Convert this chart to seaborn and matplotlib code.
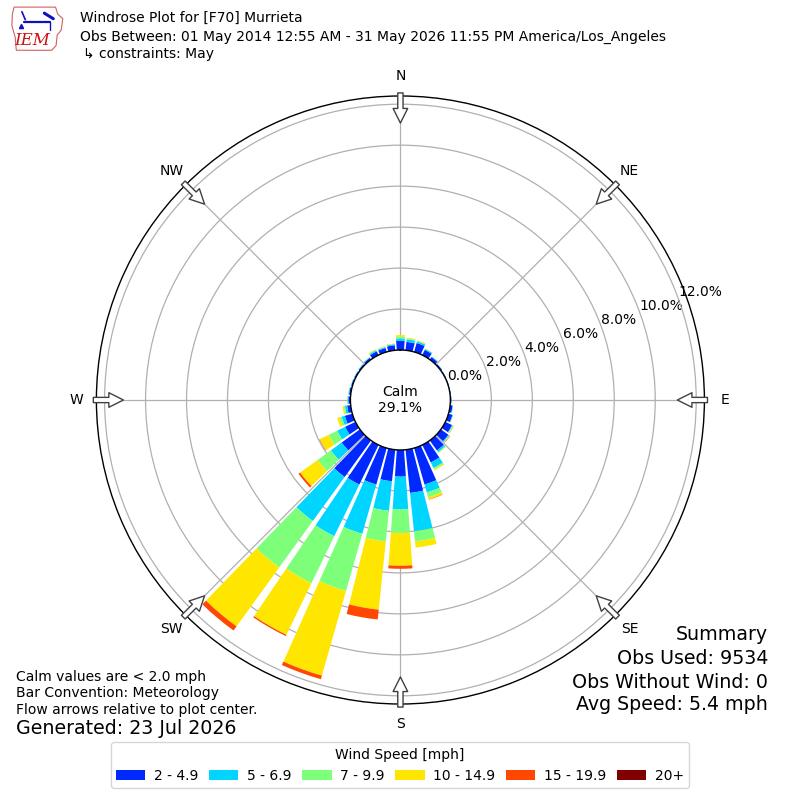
import numpy as np
import pandas as pd
import matplotlib
matplotlib.use("Agg")
import matplotlib.pyplot as plt
from matplotlib.patches import Patch, Polygon
import seaborn as sns

# ---------------- data ----------------
directions = list(range(0, 360, 10))
speed_bins = ["2 - 4.9", "5 - 6.9", "7 - 9.9", "10 - 14.9", "15 - 19.9", "20+"]
pct_2_5 = [0.45, 0.41, 0.45, 0.28, 0.15, 0.07, 0.04, 0.03, 0.03, 0.05, 0.12, 0.20,
           0.36, 0.45, 0.60, 0.95, 1.85, 2.12, 1.30, 1.55, 1.85, 2.15, 2.20, 1.10,
           0.56, 0.38, 0.17, 0.10, 0.08, 0.06, 0.06, 0.07, 0.10, 0.20, 0.20, 0.25]
pct_5_7 = [0.12, 0.13, 0.08, 0.05, 0.03, 0.01, 0.01, 0.00, 0.00, 0.01, 0.02, 0.03,
           0.04, 0.05, 0.10, 0.30, 0.40, 1.88, 1.60, 1.45, 2.50, 2.80, 2.65, 0.65,
           0.43, 0.16, 0.11, 0.04, 0.03, 0.02, 0.02, 0.02, 0.03, 0.06, 0.05, 0.05]
pct_7_10 = [0.08, 0.04, 0.03, 0.01, 0.01, 0.00, 0.00, 0.00, 0.00, 0.00, 0.00, 0.01,
            0.02, 0.02, 0.03, 0.07, 0.25, 0.50, 1.15, 1.50, 2.90, 2.55, 2.80, 0.80,
            0.46, 0.11, 0.06, 0.01, 0.01, 0.00, 0.00, 0.01, 0.01, 0.03, 0.02, 0.02]
pct_10_15 = [0.08, 0.04, 0.03, 0.01, 0.00, 0.00, 0.00, 0.00, 0.00, 0.00, 0.00, 0.01,
             0.02, 0.02, 0.02, 0.05, 0.10, 0.30, 1.60, 3.35, 4.30, 2.80, 3.55, 1.05,
             0.49, 0.12, 0.06, 0.01, 0.00, 0.00, 0.00, 0.00, 0.00, 0.03, 0.02, 0.02]
pct_15_20 = [0.00, 0.00, 0.00, 0.00, 0.00, 0.00, 0.00, 0.00, 0.00, 0.00, 0.00, 0.00,
             0.01, 0.02, 0.00, 0.00, 0.02, 0.00, 0.15, 0.48, 0.18, 0.07, 0.25, 0.10,
             0.02, 0.00, 0.00, 0.00, 0.00, 0.00, 0.00, 0.00, 0.00, 0.00, 0.00, 0.00]
pct_20p = [0.0] * 36
ring_ticks = [0, 2, 4, 6, 8, 10, 12]
compass_dirs = [0, 45, 90, 135, 180, 225, 270, 315]
compass_labels = ["N", "NE", "E", "SE", "S", "SW", "W", "NW"]
calm_pct = 29.1
title_lines = ["Windrose Plot for [F70] Murrieta",
               "Obs Between: 01 May 2014 12:55 AM - 31 May 2026 11:55 PM America/Los_Angeles",
               "\u21b3 constraints: May"]
notes_left = ["Calm values are < 2.0 mph", "Bar Convention: Meteorology",
              "Flow arrows relative to plot center."]
generated = "Generated: 23 Jul 2026"
summary_lines = ["Summary", "Obs Used: 9534", "Obs Without Wind: 0", "Avg Speed: 5.4 mph"]

df = pd.DataFrame({"dir": directions,
                   speed_bins[0]: pct_2_5, speed_bins[1]: pct_5_7,
                   speed_bins[2]: pct_7_10, speed_bins[3]: pct_10_15,
                   speed_bins[4]: pct_15_20, speed_bins[5]: pct_20p})

# ---------------- style ----------------
sns.set_theme(style="white")
plt.rcParams["font.family"] = ["DejaVu Sans"]
plt.rcParams["text.color"] = "black"
plt.rcParams["xtick.color"] = "black"
plt.rcParams["ytick.color"] = "black"
plt.rcParams["axes.labelcolor"] = "black"
plt.rcParams["legend.labelcolor"] = "black"
jet = plt.get_cmap("jet")
colors = sns.color_palette([jet(i / 6.0) for i in range(1, 7)])

fig = plt.figure(figsize=(8, 8), dpi=100)
fig.patch.set_facecolor("white")
ax = fig.add_axes([0.1205, 0.12, 0.76, 0.76], projection="polar")
ax.set_facecolor("white")
ax.set_theta_zero_location("N")
ax.set_theta_direction(-1)

rmax = 12.4
ax.set_rorigin(-2.44)
ax.set_ylim(0, rmax)

theta = np.deg2rad(df["dir"].values)
width = np.deg2rad(8.2)
bottom = np.zeros(len(df))
for i, sb in enumerate(speed_bins):
    vals = df[sb].values
    ax.bar(theta, vals, width=width, bottom=bottom, color=colors[i],
           edgecolor="none", linewidth=0, zorder=1)
    bottom = bottom + vals

ax.set_xticks(np.deg2rad(compass_dirs))
ax.set_xticklabels(compass_labels, fontsize=10, color="black")
ax.tick_params(axis="x", pad=1.5, colors="black")
ax.set_yticks(ring_ticks)
ax.set_yticklabels([f"{t:.1f}%" for t in ring_ticks], fontsize=10, color="black")
ax.set_rlabel_position(70)
ax.grid(True, color="#b0b0b0", linewidth=0.9)
for name, sp in ax.spines.items():
    sp.set_edgecolor("black")
    sp.set_linewidth(1.0)

# flow arrows
for d in compass_dirs:
    ax.annotate("", xy=(np.deg2rad(d), 11.08), xytext=(np.deg2rad(d), 12.55),
                xycoords="data", textcoords="data", annotation_clip=False,
                arrowprops=dict(facecolor="white", edgecolor="#404040", width=3.8,
                                headwidth=10.5, headlength=10.5, linewidth=1.0, shrink=0.0),
                zorder=6)

ax.text(0.5, 0.5, f"Calm\n{calm_pct:.1f}%", transform=ax.transAxes, ha="center",
        va="center", fontsize=10, color="black", zorder=7)

# titles
ys = [18, 37, 54]
for line, y in zip(title_lines, ys):
    fig.text(80 / 800 if not line.startswith("\u21b3") else 83 / 800, 1 - y / 800, line,
             fontsize=10, va="center", ha="left", color="black")

# logo
lax = fig.add_axes([0.012, 0.936, 0.07, 0.058])
lax.set_xlim(0, 1)
lax.set_ylim(0, 1)
lax.axis("off")
iowa = [(0.08, 0.95), (0.82, 0.95), (0.86, 0.80), (0.95, 0.70), (0.92, 0.45), (0.85, 0.35),
        (0.83, 0.12), (0.75, 0.02), (0.12, 0.02), (0.10, 0.30), (0.04, 0.55), (0.05, 0.80)]
lax.add_patch(Polygon(iowa, closed=True, fill=False, edgecolor="#d06060", linewidth=0.8))
lax.plot([0.25, 0.72], [0.62, 0.62], color="#1010c0", lw=1.6)
lax.plot([0.22, 0.28], [0.85, 0.68], color="#1010c0", lw=1.2)
lax.plot([0.62, 0.78], [0.82, 0.70], color="#1010c0", lw=2.2)
lax.plot([0.72, 0.72], [0.62, 0.45], color="#1010c0", lw=1.0)
lax.plot([0.20], [0.55], marker="^", color="#1010c0", ms=3)
lax.text(0.40, 0.22, "IEM", color="#d01010", fontsize=12, fontstyle="italic",
         family="DejaVu Serif", ha="center", va="center")

# notes
for line, y in zip(notes_left, [677, 693, 710]):
    fig.text(16 / 800, 1 - y / 800, line, fontsize=10, va="center", ha="left", color="black")
fig.text(16 / 800, 1 - 729 / 800, generated, fontsize=13.7, va="center", ha="left",
         color="black")
for line, y in zip(summary_lines, [635, 659, 682, 705]):
    fig.text(768 / 800, 1 - y / 800, line, fontsize=13.7, va="center", ha="right",
             color="black")

# legend
handles = [Patch(facecolor=colors[i], edgecolor="none") for i in range(len(speed_bins))]
leg = fig.legend(handles, speed_bins, loc="lower center", bbox_to_anchor=(0.5, 0.006),
                 ncol=6, title="Wind Speed [mph]", fontsize=10, title_fontsize=10,
                 frameon=True, fancybox=True, handlelength=2.1, handletextpad=0.6,
                 columnspacing=0.8, borderpad=0.4)
leg.get_frame().set_edgecolor("#cccccc")
leg.get_title().set_color("black")
for t in leg.get_texts():
    t.set_color("black")

fig.savefig("out.png", dpi=100, facecolor="white")
